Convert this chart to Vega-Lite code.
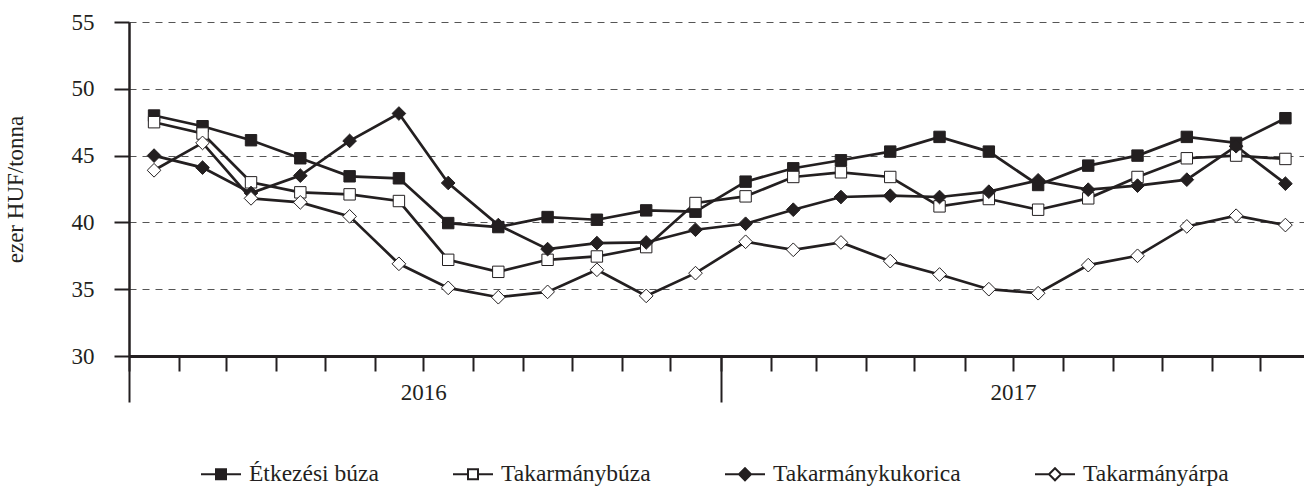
{
  "$schema": "https://vega.github.io/schema/vega-lite/v6.json",
  "width": 1175,
  "height": 334,
  "autosize": "none",
  "padding": {"left": 129, "top": 22, "right": 0, "bottom": 133},
  "background": "white",
  "config": {
    "view": {"stroke": null},
    "font": "Liberation Serif",
    "axis": {"labelFont": "Liberation Serif", "titleFont": "Liberation Serif", "labelColor": "#231f20", "titleColor": "#231f20"},
    "legend": {
      "labelFont": "Liberation Serif", "labelFontSize": 23.5, "labelColor": "#231f20", "labelLimit": 0,
      "labelOffset": 7, "columnPadding": 70, "symbolSize": 1600, "symbolStrokeColor": "#231f20",
      "symbolStrokeWidth": 2, "symbolOpacity": 1
    }
  },
  "data": {
    "values": [
      {"date": "2016/01/01", "series": "Étkezési búza", "value": 48.0},
      {"date": "2016/02/01", "series": "Étkezési búza", "value": 47.2},
      {"date": "2016/03/01", "series": "Étkezési búza", "value": 46.15},
      {"date": "2016/04/01", "series": "Étkezési búza", "value": 44.8},
      {"date": "2016/05/01", "series": "Étkezési búza", "value": 43.45},
      {"date": "2016/06/01", "series": "Étkezési búza", "value": 43.3},
      {"date": "2016/07/01", "series": "Étkezési búza", "value": 39.95},
      {"date": "2016/08/01", "series": "Étkezési búza", "value": 39.65},
      {"date": "2016/09/01", "series": "Étkezési búza", "value": 40.4},
      {"date": "2016/10/01", "series": "Étkezési búza", "value": 40.2},
      {"date": "2016/11/01", "series": "Étkezési búza", "value": 40.9},
      {"date": "2016/12/01", "series": "Étkezési búza", "value": 40.8},
      {"date": "2017/01/01", "series": "Étkezési búza", "value": 43.05},
      {"date": "2017/02/01", "series": "Étkezési búza", "value": 44.05},
      {"date": "2017/03/01", "series": "Étkezési búza", "value": 44.65},
      {"date": "2017/04/01", "series": "Étkezési búza", "value": 45.3},
      {"date": "2017/05/01", "series": "Étkezési búza", "value": 46.4},
      {"date": "2017/06/01", "series": "Étkezési búza", "value": 45.3},
      {"date": "2017/07/01", "series": "Étkezési búza", "value": 42.8},
      {"date": "2017/08/01", "series": "Étkezési búza", "value": 44.25},
      {"date": "2017/09/01", "series": "Étkezési búza", "value": 45.0},
      {"date": "2017/10/01", "series": "Étkezési búza", "value": 46.4},
      {"date": "2017/11/01", "series": "Étkezési búza", "value": 45.95},
      {"date": "2017/12/01", "series": "Étkezési búza", "value": 47.8},
      {"date": "2016/01/01", "series": "Takarmánybúza", "value": 47.5},
      {"date": "2016/02/01", "series": "Takarmánybúza", "value": 46.65},
      {"date": "2016/03/01", "series": "Takarmánybúza", "value": 43.0},
      {"date": "2016/04/01", "series": "Takarmánybúza", "value": 42.25},
      {"date": "2016/05/01", "series": "Takarmánybúza", "value": 42.1},
      {"date": "2016/06/01", "series": "Takarmánybúza", "value": 41.6},
      {"date": "2016/07/01", "series": "Takarmánybúza", "value": 37.2},
      {"date": "2016/08/01", "series": "Takarmánybúza", "value": 36.3},
      {"date": "2016/09/01", "series": "Takarmánybúza", "value": 37.2},
      {"date": "2016/10/01", "series": "Takarmánybúza", "value": 37.45},
      {"date": "2016/11/01", "series": "Takarmánybúza", "value": 38.15},
      {"date": "2016/12/01", "series": "Takarmánybúza", "value": 41.45},
      {"date": "2017/01/01", "series": "Takarmánybúza", "value": 41.95},
      {"date": "2017/02/01", "series": "Takarmánybúza", "value": 43.4},
      {"date": "2017/03/01", "series": "Takarmánybúza", "value": 43.75},
      {"date": "2017/04/01", "series": "Takarmánybúza", "value": 43.4},
      {"date": "2017/05/01", "series": "Takarmánybúza", "value": 41.2},
      {"date": "2017/06/01", "series": "Takarmánybúza", "value": 41.75},
      {"date": "2017/07/01", "series": "Takarmánybúza", "value": 40.95},
      {"date": "2017/08/01", "series": "Takarmánybúza", "value": 41.8},
      {"date": "2017/09/01", "series": "Takarmánybúza", "value": 43.4},
      {"date": "2017/10/01", "series": "Takarmánybúza", "value": 44.8},
      {"date": "2017/11/01", "series": "Takarmánybúza", "value": 45.0},
      {"date": "2017/12/01", "series": "Takarmánybúza", "value": 44.75},
      {"date": "2016/01/01", "series": "Takarmánykukorica", "value": 45.0},
      {"date": "2016/02/01", "series": "Takarmánykukorica", "value": 44.1},
      {"date": "2016/03/01", "series": "Takarmánykukorica", "value": 42.2},
      {"date": "2016/04/01", "series": "Takarmánykukorica", "value": 43.5},
      {"date": "2016/05/01", "series": "Takarmánykukorica", "value": 46.1},
      {"date": "2016/06/01", "series": "Takarmánykukorica", "value": 48.15},
      {"date": "2016/07/01", "series": "Takarmánykukorica", "value": 42.95},
      {"date": "2016/08/01", "series": "Takarmánykukorica", "value": 39.8},
      {"date": "2016/09/01", "series": "Takarmánykukorica", "value": 38.0},
      {"date": "2016/10/01", "series": "Takarmánykukorica", "value": 38.45},
      {"date": "2016/11/01", "series": "Takarmánykukorica", "value": 38.5},
      {"date": "2016/12/01", "series": "Takarmánykukorica", "value": 39.45},
      {"date": "2017/01/01", "series": "Takarmánykukorica", "value": 39.9},
      {"date": "2017/02/01", "series": "Takarmánykukorica", "value": 40.95},
      {"date": "2017/03/01", "series": "Takarmánykukorica", "value": 41.9},
      {"date": "2017/04/01", "series": "Takarmánykukorica", "value": 42.0},
      {"date": "2017/05/01", "series": "Takarmánykukorica", "value": 41.9},
      {"date": "2017/06/01", "series": "Takarmánykukorica", "value": 42.3},
      {"date": "2017/07/01", "series": "Takarmánykukorica", "value": 43.15},
      {"date": "2017/08/01", "series": "Takarmánykukorica", "value": 42.45},
      {"date": "2017/09/01", "series": "Takarmánykukorica", "value": 42.75},
      {"date": "2017/10/01", "series": "Takarmánykukorica", "value": 43.2},
      {"date": "2017/11/01", "series": "Takarmánykukorica", "value": 45.7},
      {"date": "2017/12/01", "series": "Takarmánykukorica", "value": 42.9},
      {"date": "2016/01/01", "series": "Takarmányárpa", "value": 43.9},
      {"date": "2016/02/01", "series": "Takarmányárpa", "value": 45.95},
      {"date": "2016/03/01", "series": "Takarmányárpa", "value": 41.8},
      {"date": "2016/04/01", "series": "Takarmányárpa", "value": 41.5},
      {"date": "2016/05/01", "series": "Takarmányárpa", "value": 40.45},
      {"date": "2016/06/01", "series": "Takarmányárpa", "value": 36.9},
      {"date": "2016/07/01", "series": "Takarmányárpa", "value": 35.1},
      {"date": "2016/08/01", "series": "Takarmányárpa", "value": 34.4},
      {"date": "2016/09/01", "series": "Takarmányárpa", "value": 34.8},
      {"date": "2016/10/01", "series": "Takarmányárpa", "value": 36.45},
      {"date": "2016/11/01", "series": "Takarmányárpa", "value": 34.5},
      {"date": "2016/12/01", "series": "Takarmányárpa", "value": 36.2},
      {"date": "2017/01/01", "series": "Takarmányárpa", "value": 38.55},
      {"date": "2017/02/01", "series": "Takarmányárpa", "value": 37.95},
      {"date": "2017/03/01", "series": "Takarmányárpa", "value": 38.5},
      {"date": "2017/04/01", "series": "Takarmányárpa", "value": 37.1},
      {"date": "2017/05/01", "series": "Takarmányárpa", "value": 36.1},
      {"date": "2017/06/01", "series": "Takarmányárpa", "value": 35.0},
      {"date": "2017/07/01", "series": "Takarmányárpa", "value": 34.7},
      {"date": "2017/08/01", "series": "Takarmányárpa", "value": 36.8},
      {"date": "2017/09/01", "series": "Takarmányárpa", "value": 37.5},
      {"date": "2017/10/01", "series": "Takarmányárpa", "value": 39.7},
      {"date": "2017/11/01", "series": "Takarmányárpa", "value": 40.5},
      {"date": "2017/12/01", "series": "Takarmányárpa", "value": 39.8}
    ]
  },
  "encoding": {
    "y": {
      "field": "value",
      "type": "quantitative",
      "scale": {"domain": [30, 55], "nice": false, "zero": false},
      "axis": {
        "values": [30, 35, 40, 45, 50, 55],
        "title": "ezer HUF/tonna",
        "titleFontSize": 23,
        "titleFontWeight": "normal",
        "titlePadding": 44,
        "labelFontSize": 23,
        "labelPadding": 20,
        "tickSize": 15,
        "tickWidth": 2,
        "tickColor": "#231f20",
        "domainColor": "#231f20",
        "domainWidth": 2.5,
        "grid": true,
        "gridColor": "#555555",
        "gridDash": [7, 6],
        "gridWidth": 1
      }
    }
  },
  "layer": [
    {
      "mark": {"type": "point", "filled": true, "size": 1, "strokeWidth": 2, "opacity": 1},
      "encoding": {
        "x": {
          "field": "date", "type": "temporal", "timeUnit": "yearmonth", "bandPosition": 0.5,
          "scale": {"domain": [{"year": 2016, "month": 1, "date": 1}, {"year": 2017, "month": 12, "date": 28}], "nice": false},
          "axis": null
        },
        "shape": {
          "field": "series", "type": "nominal",
          "scale": {
            "domain": ["Étkezési búza", "Takarmánybúza", "Takarmánykukorica", "Takarmányárpa"],
            "range": [
              "M-1,0H-0.25M0.25,0H1M-0.25,-0.25H0.25V0.25H-0.25Z",
              "M-1,0H-0.25M0.25,0H1M-0.25,-0.25H0.25V0.25H-0.25Z",
              "M-1,0H-0.3M0.3,0H1M-0.3,0L0,-0.3L0.3,0L0,0.3Z",
              "M-1,0H-0.3M0.3,0H1M-0.3,0L0,-0.3L0.3,0L0,0.3Z"
            ]
          },
          "legend": {"title": null, "orient": "none", "direction": "horizontal", "columns": 4, "legendX": 71, "legendY": 431}
        },
        "stroke": {
          "field": "series", "type": "nominal",
          "scale": {
            "domain": ["Étkezési búza", "Takarmánybúza", "Takarmánykukorica", "Takarmányárpa"],
            "range": ["#231f20", "#231f20", "#231f20", "#231f20"]
          },
          "legend": {"title": null, "orient": "none", "direction": "horizontal", "columns": 4, "legendX": 71, "legendY": 431}
        },
        "fill": {
          "field": "series", "type": "nominal",
          "scale": {
            "domain": ["Étkezési búza", "Takarmánybúza", "Takarmánykukorica", "Takarmányárpa"],
            "range": ["#231f20", "#ffffff", "#231f20", "#ffffff"]
          },
          "legend": {"title": null, "orient": "none", "direction": "horizontal", "columns": 4, "legendX": 71, "legendY": 431}
        }
      }
    },
    {
      "mark": {"type": "line", "stroke": "#231f20", "strokeWidth": 2.7},
      "encoding": {
        "x": {
          "field": "date",
          "type": "temporal",
          "timeUnit": "yearmonth",
          "bandPosition": 0.5,
          "scale": {"domain": [{"year": 2016, "month": 1, "date": 1}, {"year": 2017, "month": 12, "date": 28}], "nice": false},
          "axis": {
            "title": null,
            "grid": false,
            "orient": "bottom",
            "values": [
              {"year": 2016, "month": 1, "date": 1}, {"year": 2016, "month": 2, "date": 1}, {"year": 2016, "month": 3, "date": 1},
              {"year": 2016, "month": 4, "date": 1}, {"year": 2016, "month": 5, "date": 1}, {"year": 2016, "month": 6, "date": 1},
              {"year": 2016, "month": 7, "date": 1}, {"year": 2016, "month": 8, "date": 1}, {"year": 2016, "month": 9, "date": 1},
              {"year": 2016, "month": 10, "date": 1}, {"year": 2016, "month": 11, "date": 1}, {"year": 2016, "month": 12, "date": 1},
              {"year": 2017, "month": 1, "date": 1}, {"year": 2017, "month": 2, "date": 1}, {"year": 2017, "month": 3, "date": 1},
              {"year": 2017, "month": 4, "date": 1}, {"year": 2017, "month": 5, "date": 1}, {"year": 2017, "month": 6, "date": 1},
              {"year": 2017, "month": 7, "date": 1}, {"year": 2017, "month": 8, "date": 1}, {"year": 2017, "month": 9, "date": 1},
              {"year": 2017, "month": 10, "date": 1}, {"year": 2017, "month": 11, "date": 1}, {"year": 2017, "month": 12, "date": 1}
            ],
            "labelExpr": "month(datum.value) == 6 ? timeFormat(datum.value, '%Y') : ''",
            "labelOverlap": false,
            "labelFlush": false,
            "labelFontSize": 23,
            "labelPadding": 10,
            "tickSize": 15,
            "tickWidth": 2,
            "tickColor": "#231f20",
            "domainColor": "#231f20",
            "domainWidth": 3
          }
        },
        "detail": {"field": "series"}
      }
    },
    {
      "transform": [{"filter": {"field": "series", "oneOf": ["Étkezési búza", "Takarmánybúza"]}}],
      "mark": {"type": "point", "shape": "square", "filled": true, "size": 130, "stroke": "#231f20", "strokeWidth": 1, "opacity": 1},
      "encoding": {
        "x": {
          "field": "date",
          "type": "temporal",
          "timeUnit": "yearmonth",
          "bandPosition": 0.5,
          "scale": {"domain": [{"year": 2016, "month": 1, "date": 1}, {"year": 2017, "month": 12, "date": 28}], "nice": false},
          "axis": {
            "title": null,
            "grid": false,
            "domain": false,
            "labels": false,
            "orient": "bottom",
            "values": [{"year": 2016, "month": 1, "date": 1}, {"year": 2017, "month": 1, "date": 1}],
            "tickSize": 46,
            "tickWidth": 2,
            "tickColor": "#231f20"
          }
        },
        "fill": {
          "field": "series", "type": "nominal",
          "scale": {
            "domain": ["Étkezési búza", "Takarmánybúza", "Takarmánykukorica", "Takarmányárpa"],
            "range": ["#231f20", "#ffffff", "#231f20", "#ffffff"]
          },
          "legend": {"title": null, "orient": "none", "direction": "horizontal", "columns": 4, "legendX": 71, "legendY": 431}
        }
      }
    },
    {
      "transform": [{"filter": {"field": "series", "oneOf": ["Takarmánykukorica", "Takarmányárpa"]}}],
      "mark": {"type": "point", "shape": "M-1.2,0L0,-1.2L1.2,0L0,1.2Z", "filled": true, "size": 130, "stroke": "#231f20", "strokeWidth": 1, "opacity": 1},
      "encoding": {
        "x": {
          "field": "date", "type": "temporal", "timeUnit": "yearmonth", "bandPosition": 0.5,
          "scale": {"domain": [{"year": 2016, "month": 1, "date": 1}, {"year": 2017, "month": 12, "date": 28}], "nice": false},
          "axis": null
        },
        "fill": {
          "field": "series", "type": "nominal",
          "scale": {
            "domain": ["Étkezési búza", "Takarmánybúza", "Takarmánykukorica", "Takarmányárpa"],
            "range": ["#231f20", "#ffffff", "#231f20", "#ffffff"]
          },
          "legend": {"title": null, "orient": "none", "direction": "horizontal", "columns": 4, "legendX": 71, "legendY": 431}
        }
      }
    }
  ],
  "resolve": {"axis": {"x": "independent"}}
}
